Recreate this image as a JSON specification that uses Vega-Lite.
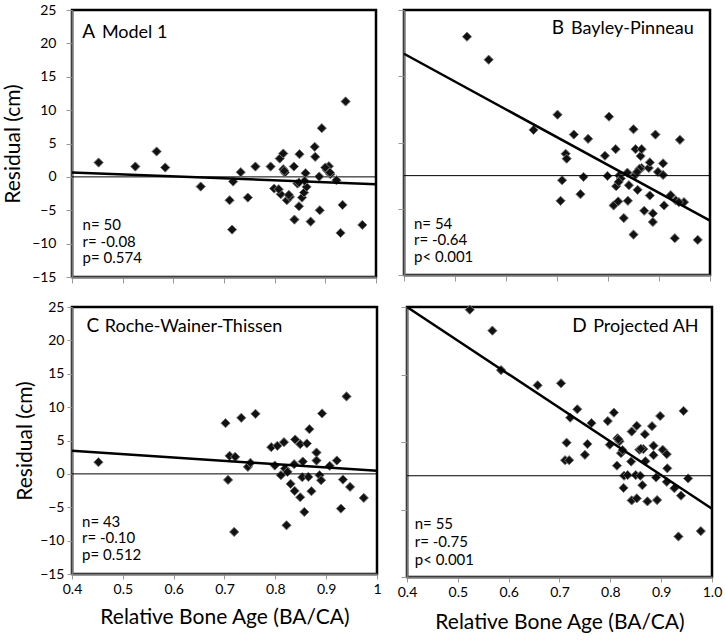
{
  "$schema": "https://vega.github.io/schema/vega-lite/v6.json",
  "padding": {"left": 1, "top": 1, "right": 0, "bottom": 0},
  "spacing": 12,
  "background": "white",
  "config": {
    "view": {"stroke": "#000", "strokeWidth": 2.5},
    "font": "Lato",
    "axis": {"grid": false, "domainColor": "#777", "domainWidth": 2, "tickColor": "#999", "tickWidth": 1, "tickSize": 6, "labelOverlap": false, "labelFlush": false, "labelFont": "Lato", "labelFontSize": 14, "labelColor": "#000", "titleFont": "Lato", "titleFontSize": 21, "titleFontWeight": "normal", "titleColor": "#000"}
  },
  "datasets": {
    "pts": [
      {"panel":"A","ba":0.4525,"res":2.15},{"panel":"A","ba":0.525,"res":1.55},{"panel":"A","ba":0.567,"res":3.8},{"panel":"A","ba":0.584,"res":1.4},{"panel":"A","ba":0.654,"res":-1.45},{"panel":"A","ba":0.711,"res":-3.5},{"panel":"A","ba":0.716,"res":-7.9},{"panel":"A","ba":0.718,"res":-0.7},{"panel":"A","ba":0.733,"res":0.7},{"panel":"A","ba":0.747,"res":-3.1},{"panel":"A","ba":0.762,"res":1.55},{"panel":"A","ba":0.792,"res":1.55},{"panel":"A","ba":0.799,"res":-1.75},{"panel":"A","ba":0.81,"res":2.75},{"panel":"A","ba":0.812,"res":-2.6},{"panel":"A","ba":0.817,"res":3.5},{"panel":"A","ba":0.817,"res":1.15},{"panel":"A","ba":0.82,"res":0.65},{"panel":"A","ba":0.824,"res":-3.5},{"panel":"A","ba":0.83,"res":-3.0},{"panel":"A","ba":0.838,"res":1.55},{"panel":"A","ba":0.839,"res":-6.4},{"panel":"A","ba":0.845,"res":-1.0},{"panel":"A","ba":0.848,"res":-4.4},{"panel":"A","ba":0.849,"res":3.4},{"panel":"A","ba":0.854,"res":-3.1},{"panel":"A","ba":0.858,"res":-2.35},{"panel":"A","ba":0.861,"res":0.55},{"panel":"A","ba":0.863,"res":-1.5},{"panel":"A","ba":0.871,"res":-6.7},{"panel":"A","ba":0.879,"res":4.5},{"panel":"A","ba":0.88,"res":3.0},{"panel":"A","ba":0.888,"res":0.05},{"panel":"A","ba":0.889,"res":-5.0},{"panel":"A","ba":0.893,"res":7.3},{"panel":"A","ba":0.903,"res":1.0},{"panel":"A","ba":0.907,"res":1.6},{"panel":"A","ba":0.91,"res":0.4},{"panel":"A","ba":0.922,"res":-0.5},{"panel":"A","ba":0.93,"res":-8.4},{"panel":"A","ba":0.934,"res":-4.2},{"panel":"A","ba":0.94,"res":11.3},{"panel":"A","ba":0.973,"res":-7.2},{"panel":"A","ba":0.819,"res":0.9},{"panel":"A","ba":0.828,"res":-2.7},{"panel":"A","ba":0.859,"res":-0.6},{"panel":"A","ba":0.9,"res":1.4},{"panel":"A","ba":0.909,"res":0.65},{"panel":"A","ba":0.808,"res":-1.85},{"panel":"A","ba":0.848,"res":-0.85},
      {"panel":"B","ba":0.5235,"res":20.97},{"panel":"B","ba":0.566,"res":17.5},{"panel":"B","ba":0.654,"res":6.9},{"panel":"B","ba":0.701,"res":9.2},{"panel":"B","ba":0.707,"res":-3.8},{"panel":"B","ba":0.71,"res":-0.7},{"panel":"B","ba":0.717,"res":3.3},{"panel":"B","ba":0.719,"res":2.55},{"panel":"B","ba":0.733,"res":6.2},{"panel":"B","ba":0.746,"res":-2.8},{"panel":"B","ba":0.752,"res":-0.2},{"panel":"B","ba":0.761,"res":5.55},{"panel":"B","ba":0.794,"res":3.0},{"panel":"B","ba":0.799,"res":-0.05},{"panel":"B","ba":0.802,"res":8.9},{"panel":"B","ba":0.811,"res":-4.5},{"panel":"B","ba":0.815,"res":4.0},{"panel":"B","ba":0.816,"res":-1.6},{"panel":"B","ba":0.82,"res":-3.9},{"panel":"B","ba":0.822,"res":0.0},{"panel":"B","ba":0.825,"res":-0.45},{"panel":"B","ba":0.831,"res":-6.4},{"panel":"B","ba":0.838,"res":0.45},{"panel":"B","ba":0.841,"res":-1.45},{"panel":"B","ba":0.839,"res":-3.8},{"panel":"B","ba":0.85,"res":7.0},{"panel":"B","ba":0.85,"res":-8.9},{"panel":"B","ba":0.854,"res":4.0},{"panel":"B","ba":0.854,"res":0.15},{"panel":"B","ba":0.858,"res":-2.15},{"panel":"B","ba":0.864,"res":2.95},{"panel":"B","ba":0.866,"res":4.0},{"panel":"B","ba":0.866,"res":1.15},{"panel":"B","ba":0.871,"res":-5.3},{"panel":"B","ba":0.88,"res":1.15},{"panel":"B","ba":0.882,"res":-3.0},{"panel":"B","ba":0.882,"res":2.0},{"panel":"B","ba":0.888,"res":-5.7},{"panel":"B","ba":0.888,"res":-7.0},{"panel":"B","ba":0.893,"res":6.2},{"panel":"B","ba":0.898,"res":0.55},{"panel":"B","ba":0.908,"res":1.85},{"panel":"B","ba":0.908,"res":0.1},{"panel":"B","ba":0.91,"res":-4.5},{"panel":"B","ba":0.923,"res":-2.95},{"panel":"B","ba":0.931,"res":-9.45},{"panel":"B","ba":0.933,"res":-3.75},{"panel":"B","ba":0.941,"res":5.4},{"panel":"B","ba":0.949,"res":-4.0},{"panel":"B","ba":0.976,"res":-9.7},{"panel":"B","ba":0.862,"res":1.05},{"panel":"B","ba":0.857,"res":0.55},{"panel":"B","ba":0.821,"res":-0.95},{"panel":"B","ba":0.939,"res":-4.0},
      {"panel":"C","ba":0.452,"res":1.75},{"panel":"C","ba":0.702,"res":7.6},{"panel":"C","ba":0.707,"res":-0.9},{"panel":"C","ba":0.71,"res":2.7},{"panel":"C","ba":0.719,"res":-8.7},{"panel":"C","ba":0.721,"res":2.55},{"panel":"C","ba":0.733,"res":8.4},{"panel":"C","ba":0.746,"res":1.05},{"panel":"C","ba":0.751,"res":1.65},{"panel":"C","ba":0.761,"res":9.0},{"panel":"C","ba":0.792,"res":4.0},{"panel":"C","ba":0.799,"res":1.25},{"panel":"C","ba":0.804,"res":4.2},{"panel":"C","ba":0.811,"res":-0.2},{"panel":"C","ba":0.817,"res":4.75},{"panel":"C","ba":0.819,"res":0.8},{"panel":"C","ba":0.822,"res":-7.7},{"panel":"C","ba":0.824,"res":0.3},{"panel":"C","ba":0.83,"res":-1.5},{"panel":"C","ba":0.837,"res":1.45},{"panel":"C","ba":0.839,"res":5.15},{"panel":"C","ba":0.838,"res":-2.55},{"panel":"C","ba":0.849,"res":4.45},{"panel":"C","ba":0.849,"res":-3.5},{"panel":"C","ba":0.853,"res":-0.5},{"panel":"C","ba":0.854,"res":1.85},{"panel":"C","ba":0.857,"res":-5.7},{"panel":"C","ba":0.862,"res":4.55},{"panel":"C","ba":0.865,"res":-0.45},{"panel":"C","ba":0.867,"res":6.7},{"panel":"C","ba":0.871,"res":-2.6},{"panel":"C","ba":0.881,"res":3.2},{"panel":"C","ba":0.881,"res":2.0},{"panel":"C","ba":0.887,"res":-0.2},{"panel":"C","ba":0.89,"res":-0.95},{"panel":"C","ba":0.892,"res":9.05},{"panel":"C","ba":0.907,"res":1.2},{"panel":"C","ba":0.921,"res":2.0},{"panel":"C","ba":0.929,"res":-5.2},{"panel":"C","ba":0.933,"res":-0.85},{"panel":"C","ba":0.94,"res":11.6},{"panel":"C","ba":0.947,"res":-1.95},{"panel":"C","ba":0.974,"res":-3.6},
      {"panel":"D","ba":0.5235,"res":24.6},{"panel":"D","ba":0.568,"res":21.5},{"panel":"D","ba":0.585,"res":15.65},{"panel":"D","ba":0.657,"res":13.4},{"panel":"D","ba":0.703,"res":13.7},{"panel":"D","ba":0.711,"res":2.3},{"panel":"D","ba":0.714,"res":4.9},{"panel":"D","ba":0.719,"res":2.3},{"panel":"D","ba":0.721,"res":8.6},{"panel":"D","ba":0.735,"res":9.85},{"panel":"D","ba":0.75,"res":3.1},{"panel":"D","ba":0.755,"res":4.7},{"panel":"D","ba":0.763,"res":7.8},{"panel":"D","ba":0.795,"res":8.1},{"panel":"D","ba":0.799,"res":4.6},{"panel":"D","ba":0.807,"res":9.35},{"panel":"D","ba":0.813,"res":1.5},{"panel":"D","ba":0.814,"res":5.55},{"panel":"D","ba":0.818,"res":5.1},{"panel":"D","ba":0.821,"res":3.35},{"panel":"D","ba":0.824,"res":3.8},{"panel":"D","ba":0.826,"res":-1.8},{"panel":"D","ba":0.827,"res":0.0},{"panel":"D","ba":0.834,"res":0.1},{"panel":"D","ba":0.841,"res":2.1},{"panel":"D","ba":0.842,"res":6.55},{"panel":"D","ba":0.842,"res":-3.65},{"panel":"D","ba":0.85,"res":0.1},{"panel":"D","ba":0.852,"res":7.4},{"panel":"D","ba":0.852,"res":-3.35},{"panel":"D","ba":0.857,"res":3.85},{"panel":"D","ba":0.859,"res":0.0},{"panel":"D","ba":0.863,"res":-1.4},{"panel":"D","ba":0.865,"res":3.95},{"panel":"D","ba":0.869,"res":2.15},{"panel":"D","ba":0.868,"res":6.15},{"panel":"D","ba":0.873,"res":-3.8},{"panel":"D","ba":0.882,"res":7.35},{"panel":"D","ba":0.885,"res":4.45},{"panel":"D","ba":0.885,"res":3.05},{"panel":"D","ba":0.89,"res":-0.25},{"panel":"D","ba":0.892,"res":-3.6},{"panel":"D","ba":0.898,"res":8.85},{"panel":"D","ba":0.903,"res":3.85},{"panel":"D","ba":0.911,"res":3.2},{"panel":"D","ba":0.912,"res":1.1},{"panel":"D","ba":0.911,"res":-0.9},{"panel":"D","ba":0.926,"res":-1.85},{"panel":"D","ba":0.934,"res":-9.0},{"panel":"D","ba":0.939,"res":-2.95},{"panel":"D","ba":0.944,"res":9.6},{"panel":"D","ba":0.953,"res":-0.4},{"panel":"D","ba":0.978,"res":-8.2},{"panel":"D","ba":0.816,"res":5.4},{"panel":"D","ba":0.86,"res":4.0}
    ],
    "fit": [
      {"panel":"A","ba":0.4,"res":0.65},{"panel":"A","ba":1.0,"res":-1.1},
      {"panel":"B","ba":0.4,"res":18.4},{"panel":"B","ba":1.0,"res":-6.8},
      {"panel":"C","ba":0.4,"res":3.45},{"panel":"C","ba":1.0,"res":0.45},
      {"panel":"D","ba":0.4,"res":25.0},{"panel":"D","ba":1.0,"res":-4.9}
    ],
    "zero": [{"ba": 0.4, "res": 0}, {"ba": 1.0, "res": 0}]
  },
  "vconcat": [
    {
      "spacing": 13,
      "hconcat": [
        {
          "width": 304, "height": 267,
          "encoding": {
            "x": {"field": "ba", "type": "quantitative", "scale": {"domain": [0.4, 1.0], "nice": false, "zero": false}, "axis": {"values": [0.4,0.5,0.6,0.7,0.8,0.9,1.0], "labels": false, "title": null}},
            "y": {"field": "res", "type": "quantitative", "scale": {"domain": [-15, 25], "nice": false, "zero": false}, "axis": {"values": [-15,-10,-5,0,5,10,15,20,25], "title": "Residual (cm)", "labelPadding": 10, "titlePadding": 8, "labelOverlap": false}}
          },
          "layer": [
            {"data": {"name": "zero"}, "mark": {"type": "line", "color": "#000", "strokeWidth": 1}},
            {"data": {"name": "pts"}, "transform": [{"filter": "datum.panel == 'A'"}],
             "mark": {"type": "point", "shape": "diamond", "filled": true, "size": 85, "fill": "#111", "stroke": "#777", "strokeWidth": 1, "opacity": 1}},
            {"data": {"name": "fit"}, "transform": [{"filter": "datum.panel == 'A'"}], "mark": {"type": "line", "color": "#000", "strokeWidth": 2.5}},
            {"data": {"values": [{"ba": 0.4203, "res": 20.87}]}, "mark": {"type": "text", "text": "A", "align": "left", "baseline": "alphabetic", "fontSize": 19, "font": "Lato"}},
            {"data": {"values": [{"ba": 0.459, "res": 20.87}]}, "mark": {"type": "text", "text": "Model 1", "align": "left", "baseline": "alphabetic", "fontSize": 18, "font": "Lato"}},
            {"data": {"values": [{"ba": 0.4209, "res": -7.99}]}, "mark": {"type": "text", "text": ["n= 50", "r= -0.08", "p= 0.574"], "align": "left", "baseline": "alphabetic", "fontSize": 15, "lineHeight": 16.5, "font": "Lato"}}
          ]
        },
        {
          "width": 306, "height": 265,
          "layer": [
            {"data": {"name": "pts"}, "transform": [{"filter": "datum.panel == 'B'"}],
             "mark": {"type": "point", "shape": "diamond", "filled": true, "size": 85, "fill": "#111", "stroke": "#777", "strokeWidth": 1, "opacity": 1},
             "encoding": {
               "x": {"field": "ba", "type": "quantitative", "scale": {"domain": [0.4, 1.0], "nice": false, "zero": false}, "axis": {"values": [0.4,0.5,0.6,0.7,0.8,0.9,1.0], "labels": false, "title": null}},
               "y": {"field": "res", "type": "quantitative", "scale": {"domain": [-15, 25], "nice": false, "zero": false}, "axis": {"values": [-15,-10,-5,0,5,10,15,20,25], "labels": false, "title": null}}
             }},
            {"data": {"values": [{}]}, "mark": {"type": "rule", "color": "#000", "strokeWidth": 1}, "encoding": {"y": {"datum": 0, "type": "quantitative"}}},
            {"data": {"name": "fit"}, "transform": [{"filter": "datum.panel == 'B'"}], "mark": {"type": "line", "color": "#000", "strokeWidth": 2.5}, "encoding": {"x": {"field": "ba", "type": "quantitative"}, "y": {"field": "res", "type": "quantitative"}}},
            {"data": {"values": [{}]}, "mark": {"type": "text", "text": "B", "align": "right", "baseline": "alphabetic", "fontSize": 19, "font": "Lato"}, "encoding": {"x": {"datum": 0.7137, "type": "quantitative"}, "y": {"datum": 21.34, "type": "quantitative"}}},
            {"data": {"values": [{}]}, "mark": {"type": "text", "text": "Bayley-Pinneau", "align": "right", "baseline": "alphabetic", "fontSize": 18, "font": "Lato"}, "encoding": {"x": {"datum": 0.968, "type": "quantitative"}, "y": {"datum": 21.34, "type": "quantitative"}}},
            {"data": {"values": [{}]}, "mark": {"type": "text", "text": ["n= 54", "r= -0.64", "p< 0.001"], "align": "left", "baseline": "alphabetic", "fontSize": 15, "lineHeight": 16.5, "font": "Lato"}, "encoding": {"x": {"datum": 0.4196, "type": "quantitative"}, "y": {"datum": -8.0, "type": "quantitative"}}}
          ]
        }
      ]
    },
    {
      "spacing": 11,
      "hconcat": [
        {
          "width": 305, "height": 267,
          "layer": [
            {"data": {"name": "pts"}, "transform": [{"filter": "datum.panel == 'C'"}],
             "mark": {"type": "point", "shape": "diamond", "filled": true, "size": 85, "fill": "#111", "stroke": "#777", "strokeWidth": 1, "opacity": 1},
             "encoding": {
               "x": {"field": "ba", "type": "quantitative", "scale": {"domain": [0.4, 1.0], "nice": false, "zero": false}, "axis": {"values": [0.4,0.5,0.6,0.7,0.8,0.9,1.0], "labelExpr": "datum.value >= 0.999 ? '1' : format(datum.value, '.1f')", "title": "Relative Bone Age (BA/CA)", "labelPadding": 3, "titlePadding": 10, "tickSize": 5, "labelFlush": false}},
               "y": {"field": "res", "type": "quantitative", "scale": {"domain": [-15, 25], "nice": false, "zero": false}, "axis": {"values": [-15,-10,-5,0,5,10,15,20,25], "title": "Residual (cm)", "labelPadding": 3, "titlePadding": 4, "tickSize": 5, "labelOverlap": false, "tickCount": 9}}
             }},
            {"data": {"values": [{}]}, "mark": {"type": "rule", "color": "#000", "strokeWidth": 1}, "encoding": {"y": {"datum": 0, "type": "quantitative"}}},
            {"data": {"name": "fit"}, "transform": [{"filter": "datum.panel == 'C'"}], "mark": {"type": "line", "color": "#000", "strokeWidth": 2.5}, "encoding": {"x": {"field": "ba", "type": "quantitative"}, "y": {"field": "res", "type": "quantitative"}}},
            {"data": {"values": [{}]}, "mark": {"type": "text", "text": "C", "align": "left", "baseline": "alphabetic", "fontSize": 19, "font": "Lato"}, "encoding": {"x": {"datum": 0.4284, "type": "quantitative"}, "y": {"datum": 21.18, "type": "quantitative"}}},
            {"data": {"values": [{}]}, "mark": {"type": "text", "text": "Roche-Wainer-Thissen", "align": "left", "baseline": "alphabetic", "fontSize": 18, "font": "Lato"}, "encoding": {"x": {"datum": 0.4644, "type": "quantitative"}, "y": {"datum": 21.18, "type": "quantitative"}}},
            {"data": {"values": [{}]}, "mark": {"type": "text", "text": ["n= 43", "r= -0.10", "p= 0.512"], "align": "left", "baseline": "alphabetic", "fontSize": 15, "lineHeight": 16.5, "font": "Lato"}, "encoding": {"x": {"datum": 0.4197, "type": "quantitative"}, "y": {"datum": -7.94, "type": "quantitative"}}}
          ]
        },
        {
          "width": 305, "height": 270,
          "layer": [
            {"data": {"name": "pts"}, "transform": [{"filter": "datum.panel == 'D'"}],
             "mark": {"type": "point", "shape": "diamond", "filled": true, "size": 85, "fill": "#111", "stroke": "#777", "strokeWidth": 1, "opacity": 1},
             "encoding": {
               "x": {"field": "ba", "type": "quantitative", "scale": {"domain": [0.4, 1.0], "nice": false, "zero": false}, "axis": {"values": [0.4,0.5,0.6,0.7,0.8,0.9,1.0], "format": ".1f", "title": "Relative Bone Age (BA/CA)", "labelPadding": 3, "titlePadding": 12, "tickSize": 5, "labelFlush": false}},
               "y": {"field": "res", "type": "quantitative", "scale": {"domain": [-15, 25], "nice": false, "zero": false}, "axis": {"values": [-15,-10,-5,0,5,10,15,20,25], "labels": false, "title": null}}
             }},
            {"data": {"values": [{}]}, "mark": {"type": "rule", "color": "#000", "strokeWidth": 1}, "encoding": {"y": {"datum": 0, "type": "quantitative"}}},
            {"data": {"name": "fit"}, "transform": [{"filter": "datum.panel == 'D'"}], "mark": {"type": "line", "color": "#000", "strokeWidth": 2.5}, "encoding": {"x": {"field": "ba", "type": "quantitative"}, "y": {"field": "res", "type": "quantitative"}}},
            {"data": {"values": [{}]}, "mark": {"type": "text", "text": "D", "align": "right", "baseline": "alphabetic", "fontSize": 19, "font": "Lato"}, "encoding": {"x": {"datum": 0.7536, "type": "quantitative"}, "y": {"datum": 21.36, "type": "quantitative"}}},
            {"data": {"values": [{}]}, "mark": {"type": "text", "text": "Projected AH", "align": "right", "baseline": "alphabetic", "fontSize": 18, "font": "Lato"}, "encoding": {"x": {"datum": 0.9736, "type": "quantitative"}, "y": {"datum": 21.36, "type": "quantitative"}}},
            {"data": {"values": [{}]}, "mark": {"type": "text", "text": ["n= 55", "r= -0.75", "p< 0.001"], "align": "left", "baseline": "alphabetic", "fontSize": 15, "lineHeight": 18, "font": "Lato"}, "encoding": {"x": {"datum": 0.4152, "type": "quantitative"}, "y": {"datum": -7.88, "type": "quantitative"}}}
          ]
        }
      ]
    }
  ]
}
